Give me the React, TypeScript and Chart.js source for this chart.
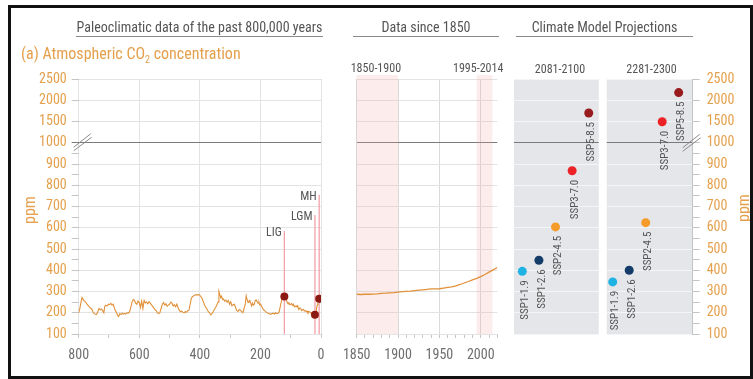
import React, { useEffect, useRef } from "react";
import { Chart, registerables } from "chart.js";

Chart.register(...registerables);

// ---------------- DATA ----------------
const PALEO_KYR = [
  800, 797, 793, 789, 785, 781, 777, 773, 769, 765, 761, 757, 753, 749, 745, 741, 737, 733, 729, 725,
  721, 717, 714, 710, 706, 702, 698, 694, 690, 686, 682, 679, 675, 671, 668, 664, 660, 656, 652, 648,
  644, 640, 636, 632, 628, 624, 620, 616, 612, 608, 604, 600, 596, 592, 588, 584, 580, 576, 572, 568,
  564, 560, 556, 552, 548, 544, 540, 536, 532, 528, 524, 520, 516, 512, 508, 504, 500, 496, 492, 488,
  484, 480, 476, 472, 468, 464, 460, 456, 452, 448, 444, 440, 436, 432, 428, 424, 420, 416, 412, 408,
  404, 400, 396, 392, 388, 384, 380, 376, 372, 368, 364, 360, 356, 352, 348, 344, 340, 337, 334, 331,
  328, 325, 322, 318, 314, 310, 306, 302, 298, 294, 290, 286, 282, 278, 274, 270, 266, 262, 258, 254,
  250, 247, 244, 241, 238, 235, 232, 229, 226, 223, 220, 217, 214, 211, 208, 205, 202, 199, 196, 193,
  190, 186, 182, 178, 174, 170, 166, 162, 158, 154, 150, 146, 142, 138, 134, 130, 127, 124, 121, 118,
  115, 112, 109, 106, 103, 100, 97, 94, 91, 88, 85, 82, 79, 76, 73, 70, 67, 64, 61, 58,
  55, 52, 49, 46, 43, 40, 37, 34, 31, 28, 25, 22, 20, 17, 14, 12, 10, 8, 6, 4,
  2, 0,
];
const PALEO_PPM = [
  200, 215, 245, 272, 262, 255, 250, 242, 235, 228, 222, 218, 205, 196, 193, 192, 205, 220, 214, 218,
  210, 200, 230, 236, 232, 240, 238, 244, 236, 240, 222, 210, 200, 186, 182, 196, 192, 198, 194, 196,
  195, 200, 198, 205, 225, 250, 262, 258, 245, 240, 255, 248, 225, 255, 220, 258, 246, 250, 242, 252,
  245, 238, 230, 222, 215, 210, 200, 196, 200, 220, 240, 248, 236, 242, 230, 236, 240, 250, 245, 232,
  238, 228, 240, 225, 212, 205, 208, 203, 200, 205, 202, 210, 212, 240, 268, 276, 280, 284, 285, 283,
  286, 282, 275, 265, 250, 235, 225, 215, 205, 200, 190, 196, 205, 215, 225, 236, 250, 300, 285, 270,
  278, 262, 265, 255, 260, 250, 258, 240, 252, 232, 238, 240, 225, 210, 206, 215, 212, 205, 200, 220,
  240, 280, 262, 248, 255, 258, 245, 232, 245, 236, 240, 258, 260, 252, 245, 250, 236, 240, 230, 222,
  214, 210, 204, 200, 198, 195, 192, 196, 198, 194, 200, 196, 198, 205, 232, 258, 272, 276, 277, 268,
  262, 250, 244, 247, 238, 240, 243, 234, 240, 228, 232, 228, 234, 224, 215, 222, 220, 210, 214, 216,
  208, 210, 205, 208, 200, 206, 204, 198, 200, 196, 192, 189, 191, 195, 225, 238, 255, 262, 265, 270,
  277, 280,
];

const EVENT_NAMES = ["LIG", "LGM", "MH"];
const EVENT_KYR = [121, 20, 6];
const EVENT_PPM = [277, 191, 266];
const EVENT_LINE_TOP_PPM = [585, 660, 755];

const MODERN_YEARS = [
  1850, 1855, 1860, 1865, 1870, 1875, 1880, 1885, 1890, 1895, 1900, 1905, 1910, 1915, 1920, 1925, 1930, 1935,
  1940, 1945, 1950, 1955, 1960, 1965, 1970, 1975, 1980, 1985, 1990, 1995, 2000, 2005, 2010, 2015, 2020,
];
const MODERN_PPM = [
  287, 286, 287, 287, 288, 289, 291, 292, 294, 295, 297, 299, 301, 302, 304, 306, 308, 310,
  312, 312, 313, 316, 319, 322, 327, 333, 340, 347, 355, 362, 370, 380, 391, 402, 413,
];

const REF_LABELS = ["1850-1900", "1995-2014"];
const REF_START = [1850, 1995];
const REF_END = [1900, 2014];

const SCENARIOS = ["SSP1-1.9", "SSP1-2.6", "SSP2-4.5", "SSP3-7.0", "SSP5-8.5"];
const SCENARIO_COLORS = ["#1FB3E3", "#143C69", "#F59B2A", "#EC2227", "#981B1E"];
const PERIODS = ["2081-2100", "2281-2300"];
const PROJ_2081_2100 = [395, 447, 604, 868, 1700];
const PROJ_2281_2300 = [345, 400, 624, 1495, 2180];

const Y_MAJOR_PPM = [100, 200, 300, 400, 500, 600, 700, 800, 900, 1000, 1500, 2000, 2500];
const Y_MINOR_PPM = [150, 250, 350, 450, 550, 650, 750, 850, 950];
const X_TICKS_KYR = [0, 100, 200, 300, 400, 500, 600, 700, 800];
const X_TICKS_YEAR = [
  1850, 1860, 1870, 1880, 1890, 1900, 1910, 1920, 1930, 1940, 1950, 1960, 1970, 1980, 1990, 2000, 2010, 2020,
];

// ---------------- STYLE ----------------
const FONT = '"Liberation Sans Narrow", "Arial Narrow", "Roboto Condensed", "DejaVu Sans Condensed", sans-serif';
const ORANGE = "#E5A04D";
const CURVE = "#E0913A";
const GRID = "#E3E3E3";
const PANEL_GRID = "#F4F5F6";
const PANEL_BG = "#E4E6E9";
const BREAK_LINE = "#7A7A7A";
const TICK = "#C4C4C4";
const AXIS_TEXT = "#6E6E6E";
const LABEL_TEXT = "#555555";
const EVENT_COLOR = "#8C1A12";
const EVENT_LINE = "#F2A2A9";
const REF_FILL = "rgba(240,170,170,0.22)";

// broken axis: linear up to 1000, compressed by 5 above
const BREAK = 1000;
const UPPER_FACTOR = 5;
const toAxis = (v: number) => (v <= BREAK ? v : BREAK + (v - BREAK) / UPPER_FACTOR);
const fromAxis = (a: number) => (a <= BREAK ? a : BREAK + (a - BREAK) * UPPER_FACTOR);
const MAJOR_AXIS = Y_MAJOR_PPM.map(toAxis);
const Y_TICK_VALUES = [...Y_MAJOR_PPM, ...Y_MINOR_PPM].map(toAxis).sort((a, b) => a - b);
const isMajor = (a: number) => MAJOR_AXIS.some((m) => Math.abs(m - a) < 1e-6);

function yAxis(kind: "left" | "hidden" | "right", gridColor: string): any {
  const showLabels = kind !== "hidden";
  return {
    type: "linear",
    position: kind === "right" ? "right" : "left",
    min: toAxis(100),
    max: toAxis(2500),
    afterBuildTicks: (s: any) => {
      s.ticks = Y_TICK_VALUES.map((v) => ({ value: v }));
    },
    afterFit: (s: any) => {
      s.width = kind === "left" ? 78.7 : kind === "right" ? 60.3 : 0;
    },
    ticks: {
      display: showLabels,
      autoSkip: false,
      padding: kind === "left" ? 5 : 7,
      color: ORANGE,
      font: { family: FONT, size: 14 },
      callback: (v: number) => (isMajor(v) ? String(Math.round(fromAxis(v))) : ""),
    },
    grid: {
      drawTicks: showLabels,
      tickLength: 7,
      color: (c: any) => {
        const v = c.tick ? c.tick.value : 0;
        if (Math.abs(v - BREAK) < 1e-6) return BREAK_LINE;
        return isMajor(v) ? gridColor : "rgba(0,0,0,0)";
      },
      tickColor: (c: any) => {
        const v = c.tick ? c.tick.value : 0;
        if (kind === "left" && Math.abs(v - BREAK) < 1e-6) return BREAK_LINE;
        return TICK;
      },
    },
    border: { display: kind === "right", color: TICK },
  };
}

function drawBreak(ctx: CanvasRenderingContext2D, x: number, y: number) {
  ctx.save();
  ctx.strokeStyle = "#8A8A8A";
  ctx.lineWidth = 1;
  ctx.beginPath();
  ctx.moveTo(x - 9, y + 4.5);
  ctx.lineTo(x + 8, y - 9);
  ctx.moveTo(x - 9, y + 8);
  ctx.lineTo(x + 9, y - 5.5);
  ctx.stroke();
  ctx.restore();
}

const noPlugins = { legend: { display: false }, tooltip: { enabled: false } };

// ---------------- CHART CONFIGS ----------------
function paleoConfig(): any {
  const eventPlugin = {
    id: "events",
    beforeDatasetsDraw(chart: any) {
      const { ctx, chartArea, scales } = chart;
      ctx.save();
      ctx.strokeStyle = EVENT_LINE;
      ctx.lineWidth = 1.3;
      EVENT_KYR.forEach((k, i) => {
        const x = scales.x.getPixelForValue(k);
        const yTop = scales.y.getPixelForValue(toAxis(EVENT_LINE_TOP_PPM[i]));
        ctx.beginPath();
        ctx.moveTo(x, yTop);
        ctx.lineTo(x, chartArea.bottom);
        ctx.stroke();
      });
      ctx.restore();
    },
    afterDatasetsDraw(chart: any) {
      const { ctx, scales } = chart;
      ctx.save();
      ctx.fillStyle = LABEL_TEXT;
      ctx.font = `12px ${FONT}`;
      ctx.textAlign = "right";
      ctx.textBaseline = "middle";
      EVENT_KYR.forEach((k, i) => {
        const x = scales.x.getPixelForValue(k);
        const yTop = scales.y.getPixelForValue(toAxis(EVENT_LINE_TOP_PPM[i]));
        ctx.fillText(EVENT_NAMES[i], x - 2.5, yTop + 2);
      });
      ctx.restore();
    },
    afterDraw(chart: any) {
      drawBreak(chart.ctx, chart.chartArea.left + 4, chart.scales.y.getPixelForValue(BREAK));
    },
  };
  return {
    type: "line",
    data: {
      datasets: [
        {
          data: PALEO_KYR.map((k, i) => ({ x: k, y: toAxis(PALEO_PPM[i]) })),
          borderColor: CURVE,
          borderWidth: 1.1,
          pointRadius: 0,
          tension: 0,
          order: 2,
        },
        {
          type: "scatter",
          data: EVENT_KYR.map((k, i) => ({ x: k, y: toAxis(EVENT_PPM[i]) })),
          backgroundColor: EVENT_COLOR,
          borderWidth: 0,
          pointRadius: 4,
          order: 1,
        },
      ],
    },
    options: {
      responsive: false,
      animation: false,
      layout: { padding: { left: 0, right: 19, top: 79, bottom: 0 } },
      plugins: noPlugins,
      scales: {
        x: {
          type: "linear",
          reverse: true,
          min: 0,
          max: 800,
          afterBuildTicks: (s: any) => {
            s.ticks = X_TICKS_KYR.map((v) => ({ value: v }));
          },
          afterFit: (s: any) => {
            s.height = 45;
          },
          ticks: {
            autoSkip: false,
            maxRotation: 0,
            padding: 9,
            color: AXIS_TEXT,
            font: { family: FONT, size: 14 },
            callback: (v: number) => (v % 200 === 0 ? String(v) : ""),
          },
          grid: {
            color: (c: any) => (c.tick && c.tick.value % 200 === 0 ? GRID : "rgba(0,0,0,0)"),
            tickColor: TICK,
            tickLength: 4,
          },
          border: { display: false },
        },
        y: yAxis("left", GRID),
      },
    },
    plugins: [eventPlugin],
  };
}

function modernConfig(): any {
  const refPlugin = {
    id: "refPeriods",
    beforeDatasetsDraw(chart: any) {
      const { ctx, chartArea, scales } = chart;
      ctx.save();
      ctx.fillStyle = REF_FILL;
      REF_START.forEach((s, i) => {
        const x0 = scales.x.getPixelForValue(s);
        const x1 = scales.x.getPixelForValue(REF_END[i]);
        ctx.fillRect(x0, chartArea.top - 4, x1 - x0, chartArea.bottom - chartArea.top + 4);
      });
      ctx.restore();
    },
    afterDraw(chart: any) {
      const { ctx, scales } = chart;
      ctx.save();
      ctx.fillStyle = LABEL_TEXT;
      ctx.font = `12px ${FONT}`;
      ctx.textBaseline = "middle";
      ctx.textAlign = "left";
      ctx.fillText(REF_LABELS[0], scales.x.getPixelForValue(REF_START[0]) - 6, 68.5);
      ctx.textAlign = "right";
      ctx.fillText(REF_LABELS[1], scales.x.getPixelForValue(REF_END[1]) + 11, 68.5);
      ctx.restore();
    },
  };
  return {
    type: "line",
    data: {
      datasets: [
        {
          data: MODERN_YEARS.map((yr, i) => ({ x: yr, y: toAxis(MODERN_PPM[i]) })),
          borderColor: CURVE,
          borderWidth: 1.3,
          pointRadius: 0,
          tension: 0,
        },
      ],
    },
    options: {
      responsive: false,
      animation: false,
      layout: { padding: { left: 26.7, right: 12.7, top: 79, bottom: 0 } },
      plugins: noPlugins,
      scales: {
        x: {
          type: "linear",
          min: 1850,
          max: 2020,
          afterBuildTicks: (s: any) => {
            s.ticks = X_TICKS_YEAR.map((v) => ({ value: v }));
          },
          afterFit: (s: any) => {
            s.height = 45;
          },
          ticks: {
            autoSkip: false,
            maxRotation: 0,
            padding: 9,
            color: AXIS_TEXT,
            font: { family: FONT, size: 14 },
            callback: (v: number) => (v % 50 === 0 ? String(v) : ""),
          },
          grid: {
            color: (c: any) => (c.tick && c.tick.value % 50 === 0 ? "#DADADA" : "rgba(0,0,0,0)"),
            tickColor: TICK,
            tickLength: 4,
          },
          border: { display: false },
        },
        y: yAxis("hidden", GRID),
      },
    },
    plugins: [refPlugin],
  };
}

function projectionConfig(values: number[], xMin: number, xMax: number, withAxis: boolean, padL: number, padR: number): any {
  const panelPlugin = {
    id: "panel",
    beforeDraw(chart: any) {
      const { ctx, chartArea } = chart;
      ctx.save();
      ctx.fillStyle = PANEL_BG;
      ctx.fillRect(chartArea.left, chartArea.top, chartArea.right - chartArea.left, chartArea.bottom - chartArea.top);
      ctx.restore();
    },
    afterDatasetsDraw(chart: any) {
      const { ctx } = chart;
      const meta = chart.getDatasetMeta(0);
      ctx.save();
      ctx.fillStyle = LABEL_TEXT;
      ctx.font = `11px ${FONT}`;
      ctx.textAlign = "right";
      ctx.textBaseline = "middle";
      meta.data.forEach((pt: any, i: number) => {
        ctx.save();
        ctx.translate(pt.x + 3, pt.y + 9);
        ctx.rotate(-Math.PI / 2);
        ctx.fillText(SCENARIOS[i], 0, 0);
        ctx.restore();
      });
      ctx.restore();
    },
    afterDraw(chart: any) {
      if (withAxis) drawBreak(chart.ctx, chart.chartArea.right - 1, chart.scales.y.getPixelForValue(BREAK) + 0.5);
    },
  };
  return {
    type: "scatter",
    data: {
      datasets: [
        {
          data: values.map((v, i) => ({ x: i + 1, y: toAxis(v) })),
          backgroundColor: SCENARIO_COLORS,
          borderWidth: 0,
          pointRadius: 4.5,
        },
      ],
    },
    options: {
      responsive: false,
      animation: false,
      layout: { padding: { left: padL, right: padR, top: 79, bottom: 45 } },
      plugins: noPlugins,
      scales: {
        x: { type: "linear", min: xMin, max: xMax, display: false },
        y: yAxis(withAxis ? "right" : "hidden", PANEL_GRID),
      },
    },
    plugins: [panelPlugin],
  };
}

// ---------------- COMPONENTS ----------------
function ChartBox(props: { left: number; width: number; make: () => any }) {
  const ref = useRef<HTMLCanvasElement>(null);
  useEffect(() => {
    const chart = new Chart(ref.current as HTMLCanvasElement, props.make());
    return () => chart.destroy();
  }, []);
  return (
    <canvas
      ref={ref}
      width={props.width}
      height={379}
      style={{ position: "absolute", left: props.left, top: 0, width: props.width, height: 379 }}
    />
  );
}

const headerStyle = (left: number, width: number): React.CSSProperties => ({
  position: "absolute",
  left,
  top: 18,
  width,
  height: 18,
  lineHeight: "18px",
  textAlign: "center",
  fontFamily: FONT,
  fontSize: 14,
  color: "#555",
  borderBottom: "1.5px solid #8A8A8A",
  whiteSpace: "nowrap",
});

const periodStyle = (center: number): React.CSSProperties => ({
  position: "absolute",
  left: center - 40,
  top: 61,
  width: 80,
  lineHeight: "16px",
  textAlign: "center",
  fontFamily: FONT,
  fontSize: 12,
  color: LABEL_TEXT,
});

const ppmStyle = (cx: number, cy: number): React.CSSProperties => ({
  position: "absolute",
  left: cx - 20,
  top: cy - 10,
  width: 40,
  height: 20,
  lineHeight: "20px",
  textAlign: "center",
  fontFamily: FONT,
  fontSize: 16,
  color: ORANGE,
  transform: "rotate(-90deg)",
});

export default function App() {
  return (
    <div style={{ position: "fixed", left: 0, top: 0, width: 753, height: 379, background: "#fff", overflow: "hidden" }}>
      <ChartBox left={0} width={340} make={paleoConfig} />
      <ChartBox left={330} width={180} make={modernConfig} />
      <ChartBox left={505} width={100} make={() => projectionConfig(PROJ_2081_2100, 0.5, 5.6, false, 9, 6.3)} />
      <ChartBox left={600} width={153} make={() => projectionConfig(PROJ_2281_2300, 0.636, 5.85, true, 6.7, 0)} />

      <div style={headerStyle(76, 247)}>Paleoclimatic data of the past 800,000 years</div>
      <div style={headerStyle(353, 146)}>Data since 1850</div>
      <div style={headerStyle(516, 177)}>Climate Model Projections</div>

      <div
        style={{
          position: "absolute",
          left: 21,
          top: 44,
          lineHeight: "20px",
          fontFamily: FONT,
          fontSize: 16,
          color: ORANGE,
          whiteSpace: "nowrap",
        }}
      >
        (a) Atmospheric CO<sub style={{ fontSize: 10, verticalAlign: "-4px", lineHeight: 0 }}>2</sub> concentration
      </div>

      <div style={periodStyle(560)}>{PERIODS[0]}</div>
      <div style={periodStyle(651.5)}>{PERIODS[1]}</div>

      <div style={ppmStyle(30, 210)}>ppm</div>
      <div style={ppmStyle(744, 208)}>ppm</div>

      <div
        style={{
          position: "absolute",
          left: 8,
          top: 5,
          width: 745,
          height: 374,
          boxSizing: "border-box",
          border: "3px solid #111",
          pointerEvents: "none",
        }}
      />
    </div>
  );
}
